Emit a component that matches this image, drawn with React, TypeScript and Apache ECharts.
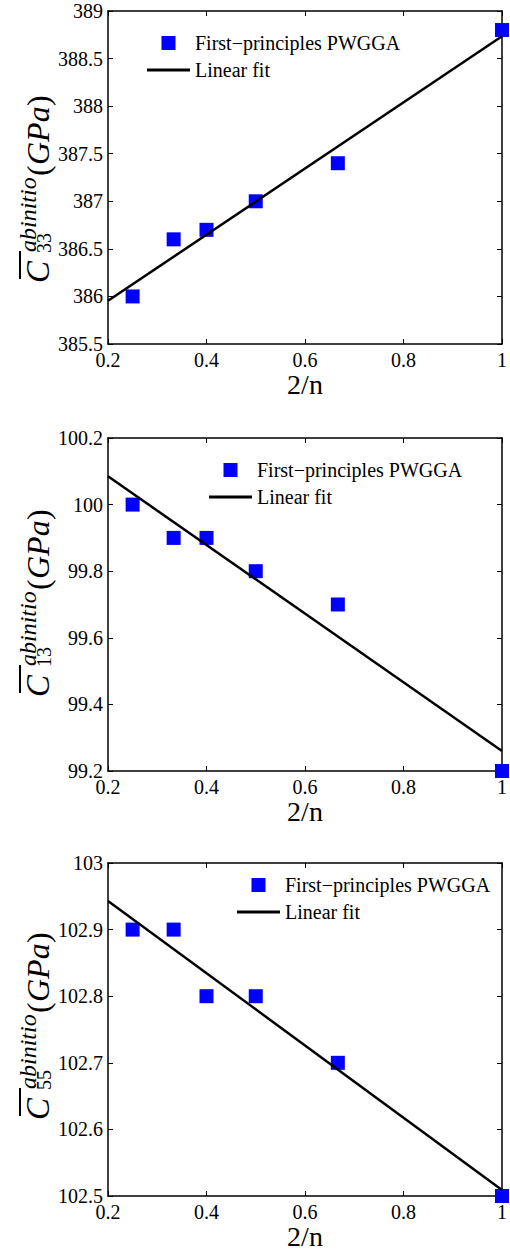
import React, { useEffect, useRef } from 'react';
import * as echarts from 'echarts';

// ---- data ----
const xValues = [0.25, 0.3333, 0.4, 0.5, 0.6667, 1.0];
const c33Values = [386.0, 386.6, 386.7, 387.0, 387.4, 388.8];
const c13Values = [100.0, 99.9, 99.9, 99.8, 99.7, 99.2];
const c55Values = [102.9, 102.9, 102.8, 102.8, 102.7, 102.5];
const fitX = [0.2, 1.0];
const c33Fit = [385.954, 388.734];
const c13Fit = [100.085, 99.26];
const c55Fit = [102.943, 102.509];
const scatterName = 'First\u2212principles PWGGA';
const fitName = 'Linear fit';
const xTitle = '2/n';

// ---- layout ----
const FONT = 'Liberation Serif, Times New Roman, serif';
const GRID_LEFT = 108;
const GRID_WIDTH = 400;
const GRID_HEIGHT = 333;

const panels = [
  { values: c33Values, fit: c33Fit, yMin: 385.5, yMax: 389, yInterval: 0.5, sub: '33', top: 11, legendLeft: 147, legendTop: 33, titleBase: 283 },
  { values: c13Values, fit: c13Fit, yMin: 99.2, yMax: 100.2, yInterval: 0.2, sub: '13', top: 438, legendLeft: 209, legendTop: 460, titleBase: 697 },
  { values: c55Values, fit: c55Fit, yMin: 102.5, yMax: 103, yInterval: 0.1, sub: '55', top: 863, legendLeft: 237, legendTop: 875, titleBase: 1120 },
];

const fmt = (v: number) => String(Number(v.toFixed(2)));

const axisLine = { show: true, onZero: false, lineStyle: { color: '#000', width: 1.5 } };
const axisTick = { show: true, inside: true, length: 5, lineStyle: { color: '#000', width: 1 } };
const labelStyle = { color: '#000', fontSize: 20, fontFamily: FONT };

const txt = (text: string, x: number, y: number, size: number, italic: boolean) => ({
  type: 'text', x, y,
  style: {
    text, fill: '#000', fontSize: size, fontFamily: FONT, fontStyle: italic ? 'italic' : 'normal',
    align: 'left', verticalAlign: 'middle',
  },
});

function buildOption() {
  const grid: any[] = [];
  const xAxis: any[] = [];
  const yAxis: any[] = [];
  const series: any[] = [];
  const legend: any[] = [];
  const graphic: any[] = [];

  panels.forEach((p, i) => {
    grid.push({ left: GRID_LEFT, top: p.top, width: GRID_WIDTH, height: GRID_HEIGHT, containLabel: false });
    xAxis.push({
      type: 'value', gridIndex: i, position: 'bottom', min: 0.2, max: 1, interval: 0.2,
      axisLine, axisTick, splitLine: { show: false },
      axisLabel: { ...labelStyle, margin: 6, formatter: fmt },
      name: xTitle, nameLocation: 'middle', nameGap: 22,
      nameTextStyle: { color: '#000', fontSize: 28, fontFamily: FONT },
    });
    xAxis.push({
      type: 'value', gridIndex: i, position: 'top', min: 0.2, max: 1, interval: 0.2,
      axisLine, axisTick, splitLine: { show: false }, axisLabel: { show: false },
    });
    yAxis.push({
      type: 'value', gridIndex: i, position: 'left', min: p.yMin, max: p.yMax, interval: p.yInterval,
      axisLine, axisTick, splitLine: { show: false },
      axisLabel: { ...labelStyle, margin: 5, formatter: fmt },
    });
    yAxis.push({
      type: 'value', gridIndex: i, position: 'right', min: p.yMin, max: p.yMax, interval: p.yInterval,
      axisLine, axisTick, splitLine: { show: false }, axisLabel: { show: false },
    });
    series.push({
      type: 'scatter', name: scatterName, xAxisIndex: i * 2, yAxisIndex: i * 2,
      symbol: 'rect', symbolSize: 14, clip: false, color: '#0000ff',
      itemStyle: { color: '#0000ff', opacity: 1 },
      data: xValues.map((x, k) => [x, p.values[k]]),
    });
    series.push({
      type: 'line', name: fitName, xAxisIndex: i * 2, yAxisIndex: i * 2,
      symbol: 'none', showSymbol: false, color: '#000',
      itemStyle: { color: '#000' },
      lineStyle: { color: '#000', width: 2.5 },
      data: fitX.map((x, k) => [x, p.fit[k]]),
    });
    legend.push({
      orient: 'vertical', left: p.legendLeft, top: p.legendTop, padding: 0,
      itemWidth: 43, itemHeight: 14, itemGap: 7, selectedMode: false, symbolKeepAspect: true,
      textStyle: { color: '#000', fontSize: 20, fontFamily: FONT },
      data: [
        { name: scatterName, icon: 'path://M0 0H10V10H0Z', itemStyle: { color: '#0000ff', opacity: 1 } },
        { name: fitName, icon: 'path://M0 0H43V3H0Z', itemStyle: { color: '#000' } },
      ],
    });
    graphic.push({
      type: 'group', x: 49, y: p.titleBase, rotation: Math.PI / 2,
      children: [
        txt('C', 0, -11, 33, true),
        { type: 'line', shape: { x1: 4, y1: -29, x2: 32, y2: -29 }, style: { stroke: '#000', lineWidth: 2 } },
        txt(p.sub, 30, -5, 20, false),
        txt('abinitio', 31, -21, 24, true),
        txt('(', 107, -11, 32, false),
        txt('GPa', 118, -11, 32, true),
        txt(')', 177, -11, 32, false),
      ],
    });
  });

  return { animation: false, backgroundColor: '#fff', grid, xAxis, yAxis, series, legend, graphic };
}

export default function App() {
  const ref = useRef<HTMLDivElement>(null);
  useEffect(() => {
    if (!ref.current) return;
    const chart = echarts.init(ref.current, undefined, { renderer: 'svg' });
    chart.setOption(buildOption() as any);
    return () => chart.dispose();
  }, []);
  return <div ref={ref} style={{ position: 'absolute', left: 0, top: 0, width: 510, height: 1255 }} />;
}
